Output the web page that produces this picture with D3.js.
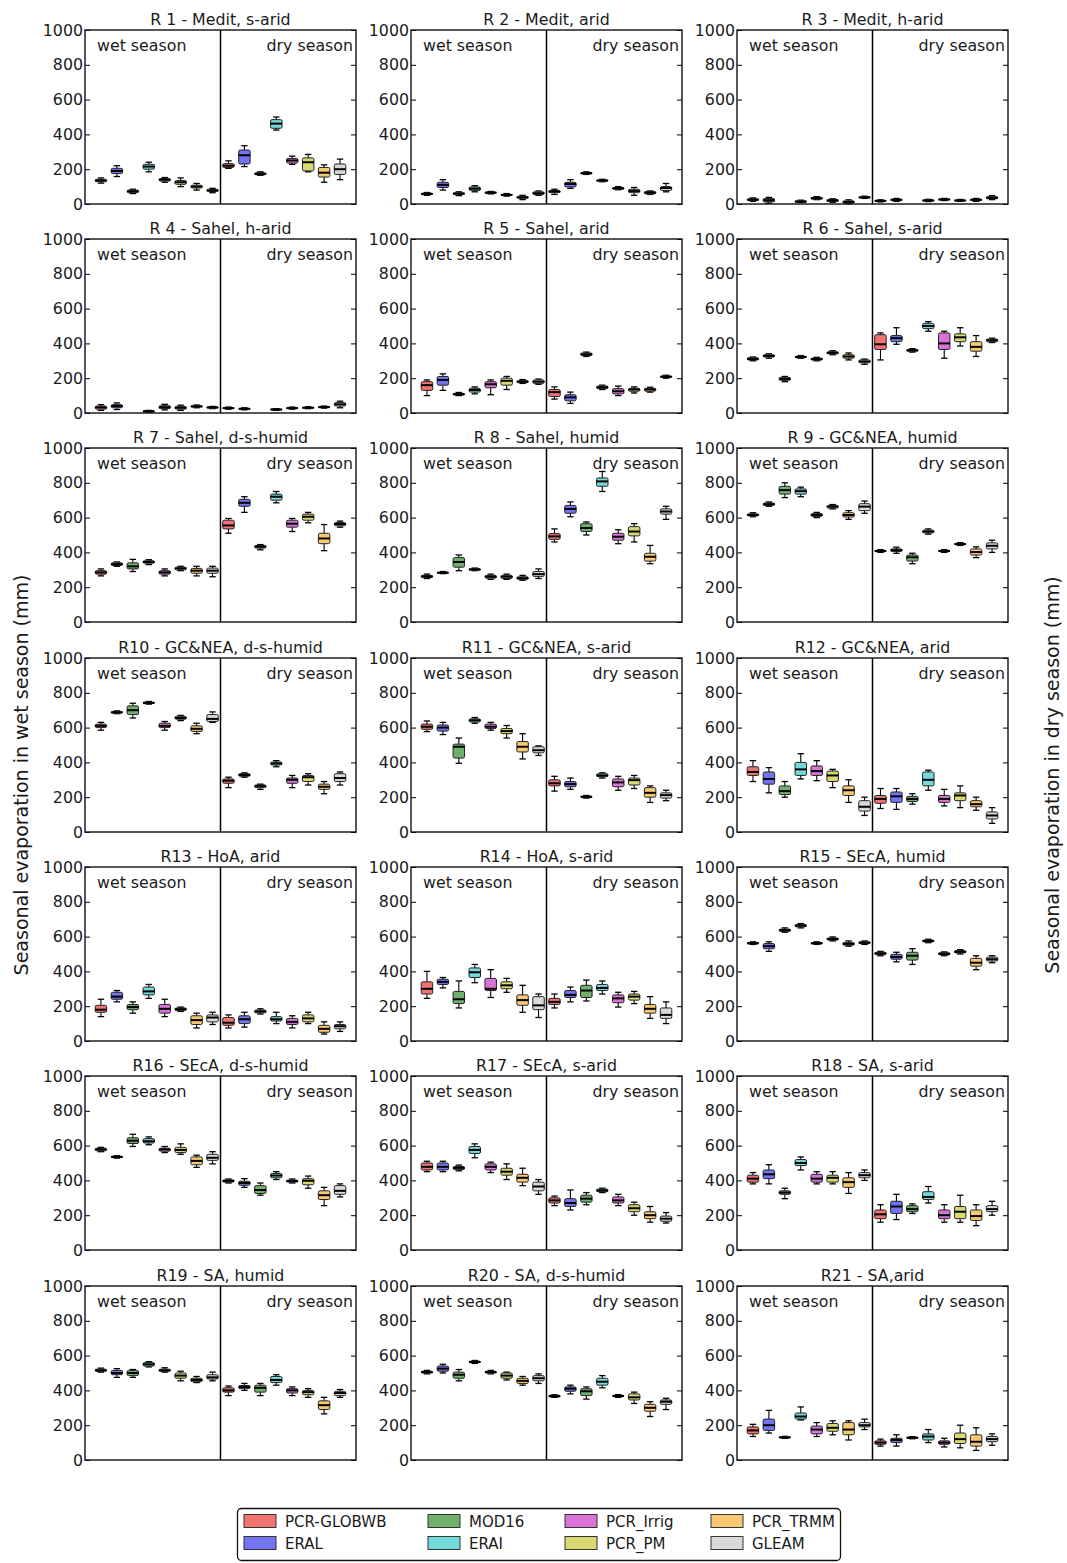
<!DOCTYPE html>
<html><head><meta charset="utf-8">
<script src="https://cdn.jsdelivr.net/npm/d3@7"></script>
<style>
body{margin:0;background:#fff;}
text{font-family:"DejaVu Sans",sans-serif;fill:#1a1a1a;}
</style>
</head><body>
<svg id="chart" width="1067" height="1563"></svg>
<script>
const regionTitles = ["R 1 - Medit, s-arid","R 2 - Medit, arid","R 3 - Medit, h-arid","R 4 - Sahel, h-arid","R 5 - Sahel, arid","R 6 - Sahel, s-arid","R 7 - Sahel, d-s-humid","R 8 - Sahel, humid","R 9 - GC&NEA, humid","R10 - GC&NEA, d-s-humid","R11 - GC&NEA, s-arid","R12 - GC&NEA, arid","R13 - HoA, arid","R14 - HoA, s-arid","R15 - SEcA, humid","R16 - SEcA, d-s-humid","R17 - SEcA, s-arid","R18 - SA, s-arid","R19 - SA, humid","R20 - SA, d-s-humid","R21 - SA,arid"];
const seriesNames = ["PCR-GLOBWB","ERAL","MOD16","ERAI","PCR_Irrig","PCR_PM","PCR_TRMM","GLEAM"];
const seriesColors = ["#f37373","#7373f3","#6fb06f","#73d9d9","#d873d8","#d9d973","#f8c874","#d9d9d9"];
const yTicks = [0,200,400,600,800,1000];
const seasonLabels = ["wet season","dry season"];
const yTitles = ["Seasonal evaporation in wet season (mm)","Seasonal evaporation in dry season (mm)"];

// each box: [whisker low, q1, median, q3, whisker high]; null = no data
const wetStats = [
[[120,128,135,142,150],[158,175,190,205,220],[60,65,73,80,85],[185,200,215,228,240],[125,132,140,146,152],[100,113,125,135,150],[80,92,100,108,118],[65,72,78,84,90]],
[[50,54,58,62,66],[80,95,110,125,140],[48,54,60,64,70],[70,78,88,98,105],[58,62,65,69,72],[45,49,52,56,60],[25,33,38,44,50],[50,55,62,70,75]],
[[15,20,25,30,35],[5,12,22,32,38],null,[8,10,14,18,22],[25,28,33,38,42],[10,14,20,26,30],[2,6,12,18,24],[32,35,38,42,45]],
[[15,22,32,40,48],[20,30,40,48,58],null,[5,8,10,13,15],[18,25,33,42,50],[15,22,30,38,45],[30,34,38,42,46],[25,28,32,35,38]],
[[100,130,160,180,190],[130,160,190,210,225],[100,103,108,113,118],[110,120,132,142,150],[105,145,165,180,190],[135,160,185,200,210],[170,174,180,186,192],[165,170,180,190,195]],
[[300,305,310,318,322],[315,322,328,335,340],[180,188,195,205,210],[315,318,322,326,330],[300,304,310,315,320],[335,340,346,352,358],[305,315,325,335,345],[280,288,296,305,310]],
[[265,275,285,295,305],[320,325,332,340,345],[290,305,320,340,360],[330,338,345,352,358],[265,275,285,295,305],[295,300,308,315,320],[265,280,295,308,320],[260,280,295,310,320]],
[[250,255,262,268,275],[278,280,283,286,290],[295,315,345,370,385],[295,298,302,306,310],[245,252,260,268,275],[245,250,260,268,275],[240,245,252,260,268],[250,262,275,290,305]],
[[605,610,615,622,628],[665,670,677,684,690],[715,735,758,780,800],[720,735,752,765,775],[600,607,615,623,630],[650,655,663,670,675],[590,603,615,628,640],[625,640,663,680,695]],
[[585,600,610,620,630],[680,683,688,692,696],[655,675,700,725,740],[735,738,742,746,750],[585,600,610,625,635],[640,648,655,665,670],[565,578,593,610,625],[630,635,650,675,690]],
[[577,590,605,620,638],[560,580,600,615,630],[395,425,490,505,540],[625,632,642,650,658],[585,595,605,620,630],[540,565,580,595,612],[420,460,490,520,565],[440,455,470,490,495]],
[[290,325,345,375,410],[225,275,305,345,370],[200,215,235,265,290],[305,325,360,400,450],[295,325,350,380,410],[255,290,325,350,360],[170,210,240,265,300],[95,120,145,180,200]],
[[140,165,180,205,240],[225,240,255,280,290],[160,180,195,210,225],[245,265,285,310,325],[140,160,185,210,240],[170,175,183,190,195],[75,95,120,145,160],[95,110,135,150,165]],
[[245,270,300,340,400],[305,325,340,355,365],[190,215,240,285,345],[335,365,395,420,440],[250,290,300,360,410],[280,300,320,340,360],[165,205,235,265,320],[135,180,205,255,270]],
[[555,558,562,566,570],[515,530,545,560,570],[625,630,637,643,650],[650,656,663,670,675],[555,558,562,566,570],[575,580,586,592,598],[545,550,558,567,575],[555,560,565,570,575]],
[[565,570,578,585,590],[528,531,535,539,542],[595,612,628,645,665],[605,615,625,640,650],[560,568,578,585,595],[550,560,575,590,610],[475,490,512,535,545],[495,515,530,550,565]],
[[450,460,478,500,510],[450,460,478,500,510],[455,462,472,480,488],[530,555,575,595,610],[445,460,478,495,505],[405,430,450,470,495],[370,390,415,435,470],[320,340,365,390,405]],
[[380,390,410,430,445],[380,410,435,460,490],[295,320,330,340,355],[460,485,500,520,535],[380,390,410,435,450],[380,390,415,430,450],[325,360,390,415,445],[400,415,430,445,460]],
[[505,510,515,522,528],[475,490,500,515,525],[475,485,500,515,520],[535,540,550,560,565],[505,510,515,522,530],[455,470,485,500,510],[445,450,460,470,480],[455,465,475,490,505]],
[[495,500,505,510,515],[500,510,525,540,550],[455,470,490,505,520],[555,560,563,568,572],[495,500,505,510,515],[460,470,485,500,505],[430,440,455,470,480],[440,455,470,485,495]],
[[135,150,170,190,205],[155,170,200,235,285],[125,128,130,133,136],[230,235,250,270,305],[135,150,175,195,215],[145,165,185,210,225],[115,145,175,215,225],[175,190,200,215,235]]
];
const dryStats = [
[[205,210,220,232,248],[215,230,280,310,335],[165,168,173,180,185],[425,435,462,485,500],[228,235,250,262,275],[185,190,240,265,285],[125,155,180,210,225],[140,170,200,230,258]],
[[55,65,72,78,85],[90,98,115,125,140],[170,173,177,181,185],[128,131,135,138,142],[82,85,90,95,100],[50,65,75,85,95],[55,58,65,72,75],[70,78,92,100,118]],
[[12,15,18,21,24],[15,19,24,28,32],null,[14,17,20,24,27],[20,23,26,29,32],[15,17,20,23,26],[15,19,24,28,32],[25,30,36,42,48]],
[[22,25,28,31,34],[18,21,24,27,30],null,[15,18,20,23,25],[22,25,28,31,34],[25,28,30,33,36],[28,31,34,37,40],[30,40,50,60,68]],
[[80,95,120,135,150],[55,70,90,105,120],[325,330,337,345,350],[135,140,148,155,160],[100,110,125,140,155],[115,125,135,142,150],[120,125,135,142,148],[200,204,208,213,217]],
[[305,365,395,450,460],[395,410,430,445,490],[350,355,360,365,370],[470,485,500,515,525],[315,365,400,460,470],[385,410,435,455,490],[325,355,380,410,445],[405,410,418,425,430]],
[[510,535,555,585,595],[630,665,685,705,720],[415,425,433,440,445],[685,700,720,735,750],[520,545,565,585,595],[570,585,605,620,630],[410,450,480,510,560],[545,553,563,572,580]],
[[460,475,492,508,535],[605,625,650,670,690],[500,520,540,565,575],[750,780,808,828,865],[450,470,490,510,530],[460,495,520,548,565],[335,350,375,395,440],[590,620,635,650,665]],
[[400,404,408,412,416],[395,405,413,420,430],[335,350,372,385,395],[505,512,520,528,535],[400,404,408,412,416],[440,444,448,452,456],[370,385,402,420,432],[400,420,438,455,470]],
[[255,280,295,305,315],[315,320,328,335,340],[245,255,265,270,275],[375,385,394,402,410],[255,280,300,310,325],[270,290,315,325,335],[220,245,260,275,290],[270,290,310,335,345]],
[[235,265,280,300,320],[245,260,275,290,310],[195,198,202,206,210],[310,318,325,335,340],[240,260,285,305,320],[250,270,298,310,325],[170,200,225,255,265],[180,195,212,225,240]],
[[135,165,190,210,250],[130,170,205,230,250],[160,175,190,205,220],[240,265,300,345,355],[150,170,190,210,245],[140,180,210,225,265],[125,145,160,180,200],[50,75,95,115,140]],
[[75,90,105,135,150],[80,100,125,145,165],[155,162,170,178,185],[100,115,125,140,165],[75,95,110,130,145],[100,110,130,150,165],[40,50,70,90,110],[55,70,85,95,110]],
[[190,210,225,245,270],[225,250,265,290,310],[230,250,290,320,350],[270,290,305,325,345],[195,220,245,265,280],[215,235,255,270,285],[130,160,185,210,255],[100,130,150,190,225]],
[[490,496,503,510,515],[455,470,483,498,510],[440,465,490,510,530],[565,570,575,580,585],[490,495,500,508,512],[500,506,512,520,525],[410,430,450,475,490],[450,460,470,482,490]],
[[385,390,397,403,408],[360,372,385,395,410],[315,325,345,370,385],[405,415,428,440,450],[385,390,396,402,408],[355,375,398,410,425],[255,290,315,340,360],[305,320,340,370,380]],
[[255,270,285,300,310],[230,250,270,295,345],[260,275,295,315,330],[330,335,342,350,355],[255,270,285,305,320],[200,220,240,260,275],[160,180,200,220,250],[155,165,180,195,215]],
[[160,180,205,230,260],[175,210,250,280,320],[210,220,235,255,265],[270,290,305,335,365],[160,180,200,230,260],[160,180,220,250,315],[140,170,195,230,260],[200,220,235,255,280]],
[[370,390,400,415,425],[400,410,420,428,440],[370,390,415,430,440],[430,445,460,480,490],[370,385,400,410,420],[360,375,390,400,410],[265,290,315,340,360],[360,370,385,395,405]],
[[360,363,367,372,375],[380,395,410,420,430],[350,370,395,410,420],[415,430,450,470,485],[360,364,368,372,376],[325,345,360,380,390],[250,280,300,320,335],[290,320,335,345,355]],
[[80,90,100,110,120],[80,100,115,125,145],[122,125,128,131,134],[100,115,135,150,175],[75,90,100,110,125],[70,95,120,155,200],[55,80,105,145,185],[85,105,120,135,150]]
];

// ---------- layout ----------
const svg = d3.select("#chart");
const colLeft = [85, 411, 737];
const rowTop = [30, 239, 448, 658, 867, 1076, 1286];
const panelW = 271, panelH = 174;
const FS = 15.8;

const x = d3.scaleLinear().domain([0, 17]).range([0, panelW]);
const y = d3.scaleLinear().domain([0, 1000]).range([panelH, 0]);
const boxW = x(0.72) - x(0);
const capW = x(0.4) - x(0);

regionTitles.forEach((title, i) => {
  const g = svg.append("g")
    .attr("transform", `translate(${colLeft[i % 3]},${rowTop[Math.floor(i / 3)]})`);

  const boxes = [];
  wetStats[i].forEach((s, k) => { if (s) boxes.push({pos: k + 1, s, k}); });
  dryStats[i].forEach((s, k) => { if (s) boxes.push({pos: k + 9, s, k}); });

  const bg = g.selectAll("g.box").data(boxes).join("g").attr("class", "box");
  bg.append("line").attr("x1", d => x(d.pos)).attr("x2", d => x(d.pos))
    .attr("y1", d => y(d.s[0])).attr("y2", d => y(d.s[1]))
    .attr("stroke", "#000").attr("stroke-width", 1.1);
  bg.append("line").attr("x1", d => x(d.pos)).attr("x2", d => x(d.pos))
    .attr("y1", d => y(d.s[3])).attr("y2", d => y(d.s[4]))
    .attr("stroke", "#000").attr("stroke-width", 1.1);
  [0, 4].forEach(j => {
    bg.append("line").attr("x1", d => x(d.pos) - capW / 2).attr("x2", d => x(d.pos) + capW / 2)
      .attr("y1", d => y(d.s[j])).attr("y2", d => y(d.s[j]))
      .attr("stroke", "#000").attr("stroke-width", 1.3);
  });
  bg.append("rect")
    .attr("x", d => x(d.pos) - boxW / 2).attr("width", boxW)
    .attr("y", d => y(d.s[3])).attr("height", d => Math.max(1, y(d.s[1]) - y(d.s[3])))
    .attr("rx", 1.5)
    .attr("fill", d => seriesColors[d.k]).attr("stroke", "#222").attr("stroke-width", 1);
  bg.append("line").attr("x1", d => x(d.pos) - boxW / 2).attr("x2", d => x(d.pos) + boxW / 2)
    .attr("y1", d => y(d.s[2])).attr("y2", d => y(d.s[2]))
    .attr("stroke", "#000").attr("stroke-width", 2);

  g.append("line").attr("x1", x(8.5)).attr("x2", x(8.5)).attr("y1", 0).attr("y2", panelH)
    .attr("stroke", "#000").attr("stroke-width", 1.5);

  const left = g.append("g").call(d3.axisLeft(y).tickValues(yTicks).tickFormat(d3.format("d"))
    .tickSizeInner(-5).tickSizeOuter(0).tickPadding(2));
  left.select(".domain").remove();
  left.selectAll("text").style("font-size", FS + "px").style("font-family", "DejaVu Sans").attr("fill", "#1a1a1a");
  left.selectAll("line").attr("stroke", "#000");
  const right = g.append("g").attr("transform", `translate(${panelW},0)`)
    .call(d3.axisRight(y).tickValues(yTicks).tickSizeInner(-5).tickSizeOuter(0).tickFormat(""));
  right.select(".domain").remove();
  right.selectAll("line").attr("stroke", "#000");

  g.append("rect").attr("x", 0).attr("y", 0).attr("width", panelW).attr("height", panelH)
    .attr("fill", "none").attr("stroke", "#111").attr("stroke-width", 1.4);

  g.append("text").attr("x", panelW / 2).attr("y", -5).attr("text-anchor", "middle")
    .style("font-size", FS + "px").text(title);
  g.append("text").attr("x", 12).attr("y", 21).style("font-size", FS + "px").text(seasonLabels[0]);
  g.append("text").attr("x", panelW - 3).attr("y", 21).attr("text-anchor", "end")
    .style("font-size", FS + "px").text(seasonLabels[1]);
});

svg.append("text").attr("transform", "translate(28,775) rotate(-90)").attr("text-anchor", "middle")
  .style("font-size", "19px").text(yTitles[0]);
svg.append("text").attr("transform", "translate(1059,775) rotate(-90)").attr("text-anchor", "middle")
  .style("font-size", "19px").text(yTitles[1]);

const lg = svg.append("g");
lg.append("rect").attr("x", 237.5).attr("y", 1508.5).attr("width", 603).attr("height", 52).attr("rx", 4)
  .attr("fill", "#fff").attr("stroke", "#111").attr("stroke-width", 1.3);
const legCols = [244, 428, 565, 711];
const legRows = [1521, 1543];
const items = lg.selectAll("g.item").data(seriesNames).join("g").attr("class", "item")
  .attr("transform", (d, k) => `translate(${legCols[Math.floor(k / 2)]},${legRows[k % 2]})`);
items.append("rect").attr("x", 0).attr("y", -6.5).attr("width", 32).attr("height", 13)
  .attr("fill", (d, k) => seriesColors[k]).attr("stroke", "#333").attr("stroke-width", 1);
items.append("text").attr("x", 41).attr("y", 5.5).style("font-size", "15px").text(d => d);
</script>
</body></html>
